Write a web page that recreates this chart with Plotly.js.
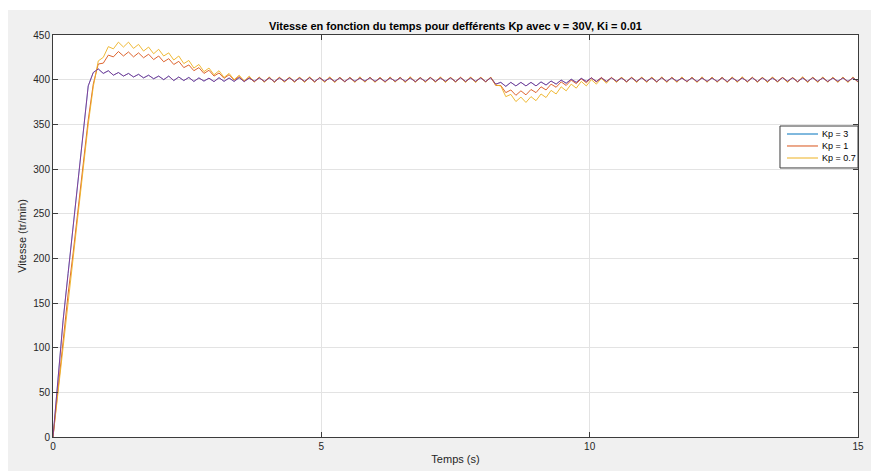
<!DOCTYPE html>
<html>
<head>
<meta charset="utf-8">
<script src="https://cdn.plot.ly/plotly-3.0.1.min.js"></script>
<style>
  html, body { margin: 0; padding: 0; background: #ffffff; width: 871px; height: 471px; overflow: hidden; }
  #fig { position: absolute; left: 8px; top: 10px; width: 863px; height: 461px; }
</style>
</head>
<body>
<div id="fig"></div>
<script>
// Sampling period of the logged speed signals (s)
const T_STEP = 0.09375;

const seriesNames = ['Kp = 3', 'Kp = 1', 'Kp = 0.7'];

// Motor speed (tr/min), Kp = 3
const vitesseKp3 = [
  0, 65, 130, 183, 235, 286, 338, 393, 408, 412,
  407, 410, 405, 408, 404, 407, 403, 406, 402, 405,
  401, 404, 400, 404, 399, 403, 399, 402.5,
  398, 402, 398.4, 401.7, 397.8, 402.2, 398.1, 401.9, 398, 402.3,
  397.9, 401.8, 398.2, 402, 398, 402.1, 397.7, 401.9, 398.3, 402,
  398, 401.8, 398.1, 402.2, 397.9, 402, 398.2, 401.7, 398, 402.1,
  397.8, 402, 398.1, 401.9, 398.3, 402.2, 398, 401.8, 397.9, 402,
  398.2, 402.1, 398, 401.9, 397.8, 402, 398.1, 402.2, 398, 401.8,
  398.2, 402, 397.9, 402.1, 398, 401.9, 398.1, 402, 397.8, 402.2,
  395, 397, 392.5, 397, 393, 397, 393, 397, 393, 397.5,
  394, 398.5, 395, 399.5, 396, 400.5, 397, 401.5, 398, 402,
  398, 402,
  398, 402, 398.2, 401.8, 397.9, 402.1, 398, 402, 398.1, 401.9,
  397.8, 402.2, 398, 402, 398.3, 401.8, 398, 402.1, 397.9, 402,
  398.1, 401.9, 398, 402.2, 397.8, 402, 398.2, 401.9, 398, 402.1,
  397.9, 402, 398.1, 401.8, 398, 402.2, 398.2, 402, 397.8, 401.9,
  398, 402.1, 398.1, 402, 397.9, 401.8, 398.2, 402, 398, 402.1,
  398
];

// Motor speed (tr/min), Kp = 1
const vitesseKp1 = [
  0, 55, 110, 160, 206, 256, 306, 355, 395, 417.5,
  418.5, 427.5, 425.5, 431.5, 426.5, 431, 425.5, 430, 424.5, 428.5,
  422.5, 426.5, 420, 423.5, 417, 420.5, 413.5, 416.5, 410, 413.5,
  407, 410.5, 404, 407.5, 401.5, 405.5, 399.5, 403.5, 398, 402.5,
  397.5, 402.5, 397.8, 402.2, 397.4, 402.6, 397.6, 402.3, 397.5, 402.5,
  397.7, 402.4, 397.3, 402.5, 397.6, 402.7, 397.5, 402.2, 397.8, 402.5,
  397.4, 402.4, 397.6, 402.6, 397.5, 402.3, 397.3, 402.5, 397.7, 402.4,
  397.5, 402.6, 397.6, 402.2, 397.4, 402.5, 397.8, 402.4, 397.5, 402.3,
  397.6, 402.7, 397.4, 402.5, 397.5, 402.4, 397.7, 402.5,
  393.5, 393.5, 385.5, 388.5, 382.5, 387.5, 383, 389, 385.5, 392,
  388.5, 395, 391.5, 397.5, 393.5, 399.5, 395.5, 401, 396.5, 402,
  397.5, 402.5,
  397.5, 402.5, 397.7, 402.3, 397.4, 402.6, 397.6, 402.4, 397.5, 402.5,
  397.3, 402.4, 397.6, 402.7, 397.5, 402.3, 397.8, 402.5, 397.4, 402.4,
  397.6, 402.6, 397.5, 402.2, 397.3, 402.5, 397.7, 402.4, 397.5, 402.6,
  397.6, 402.3, 397.4, 402.5, 397.8, 402.4, 397.5, 402.3, 397.6, 402.7,
  397.4, 402.5, 397.5, 402.4, 397.7, 402.5, 397.3, 402.6, 397.6, 402.4,
  397.5
];

// Motor speed (tr/min), Kp = 0.7
const vitesseKp07 = [
  0, 50, 105, 155, 201, 251, 301, 350, 392, 421,
  425, 437, 434.5, 442, 436.5, 442, 435, 439.5, 432, 436.5,
  429, 434, 426.5, 430, 422, 426.5, 418, 421.5, 413, 417,
  409, 413, 405.5, 410, 402.5, 407, 400, 405, 398.5, 404,
  397.5,
  403, 397, 403.2, 396.8, 402.9, 397.2, 403.1, 397, 403, 396.9,
  403.3, 397.1, 402.8, 397, 403.1, 396.8, 403, 397.2, 402.9, 397,
  403.2, 397.1, 403, 396.9, 402.8, 397, 403.1, 397.2, 403, 396.8,
  403.3, 397, 402.9, 397.1, 403, 397, 403.2, 396.9, 403, 397.1,
  402.8, 397, 403.1, 396.8, 403, 397.2, 403,
  394, 393, 381, 383.5, 375.5, 380.5, 374.5, 381, 376.5, 384,
  380, 388, 384, 392, 387.5, 395, 390.5, 398, 393, 400,
  395, 401.5, 396, 402.5,
  397, 403, 397.2, 402.9, 396.8, 403.1, 397, 403, 397.1, 403.2,
  396.9, 402.8, 397, 403.1, 397.2, 403, 396.8, 403.2, 397, 402.9,
  397.1, 403, 396.9, 403.1, 397, 403.3, 397.2, 402.8, 397, 403,
  396.8, 403.1, 397.1, 403, 397, 402.9, 397.2, 403.2, 396.9, 403,
  397, 403.1, 397.1, 402.8, 397, 403, 396.8, 403.1, 397
];

const xTicks = [0, 5, 10, 15];
const yTicks = [0, 50, 100, 150, 200, 250, 300, 350, 400, 450];

const FONT = 'Liberation Sans, Arial, Helvetica, sans-serif';
const AXIS_COLOR = '#3c3c3c';
const LEGEND_COLORS = ['#0072BD', '#D95319', '#EDB120'];

function speedTrace(values, name, color, width) {
  return {
    type: 'scatter',
    mode: 'lines',
    x0: 0,
    dx: T_STEP,
    y: values,
    name: name,
    showlegend: false,
    line: { color: color, width: width },
    hoverinfo: 'x+y+name'
  };
}

const traces = [
  speedTrace(vitesseKp3, seriesNames[0], LEGEND_COLORS[0], 0.5),
  speedTrace(vitesseKp1, seriesNames[1], LEGEND_COLORS[1], 0.9),
  speedTrace(vitesseKp07, seriesNames[2], LEGEND_COLORS[2], 0.9),
  // Kp = 3 curve as exported from the scope (purple, drawn on top)
  speedTrace(vitesseKp3, seriesNames[0], '#7E2F8E', 0.9)
];

// Compact MATLAB-style legend box in the upper right of the axes
const legendBox = { x0: 0.9031, x1: 1.0, y0: 0.6692, y1: 0.7736 };
const legendRowsY = [0.7537, 0.7239, 0.6940];
const legendShapes = [{
  type: 'rect', xref: 'paper', yref: 'paper', layer: 'above',
  x0: legendBox.x0, x1: legendBox.x1, y0: legendBox.y0, y1: legendBox.y1,
  fillcolor: '#ffffff', line: { color: AXIS_COLOR, width: 1 }
}];
const legendTexts = [];
seriesNames.forEach(function (name, i) {
  legendShapes.push({
    type: 'line', xref: 'paper', yref: 'paper', layer: 'above',
    x0: 0.9118, x1: 0.9503, y0: legendRowsY[i], y1: legendRowsY[i],
    line: { color: LEGEND_COLORS[i], width: 1 }
  });
  legendTexts.push({
    xref: 'paper', yref: 'paper', x: 0.9535, y: legendRowsY[i],
    xanchor: 'left', yanchor: 'middle', showarrow: false,
    borderpad: 0,
    text: name, font: { family: FONT, size: 9, color: '#000000' }
  });
});

const axisBase = {
  showline: true,
  linecolor: AXIS_COLOR,
  linewidth: 1,
  mirror: 'ticks',
  ticks: 'inside',
  ticklen: 5,
  tickwidth: 1,
  tickcolor: AXIS_COLOR,
  showgrid: true,
  gridcolor: '#e3e3e3',
  gridwidth: 1,
  zeroline: false,
  automargin: false,
  tickfont: { family: FONT, size: 10, color: '#262626' }
};

const layout = {
  width: 863,
  height: 461,
  paper_bgcolor: '#f0f0f0',
  plot_bgcolor: '#ffffff',
  margin: { l: 45, r: 13, t: 25, b: 34 },
  font: { family: FONT, size: 10, color: '#262626' },
  title: {
    text: '<b>Vitesse en fonction du temps pour defférents Kp avec v = 30V, Ki = 0.01</b>',
    font: { family: FONT, size: 11, color: '#000000' },
    x: 0.5, xref: 'paper', xanchor: 'center',
    y: 1, yref: 'paper', yanchor: 'bottom',
    pad: { b: 5 }
  },
  xaxis: Object.assign({}, axisBase, {
    range: [0, 15],
    tickvals: xTicks,
    ticktext: xTicks.map(String),
    title: { text: 'Temps (s)', font: { family: FONT, size: 11, color: '#262626' }, standoff: 4 }
  }),
  yaxis: Object.assign({}, axisBase, {
    range: [0, 450],
    tickvals: yTicks,
    ticktext: yTicks.map(String),
    title: { text: 'Vitesse (tr/min)', font: { family: FONT, size: 11, color: '#262626' }, standoff: 4 }
  }),
  shapes: legendShapes,
  annotations: legendTexts,
  showlegend: false
};

Plotly.newPlot('fig', traces, layout, { displayModeBar: false, staticPlot: true });
</script>
</body>
</html>
